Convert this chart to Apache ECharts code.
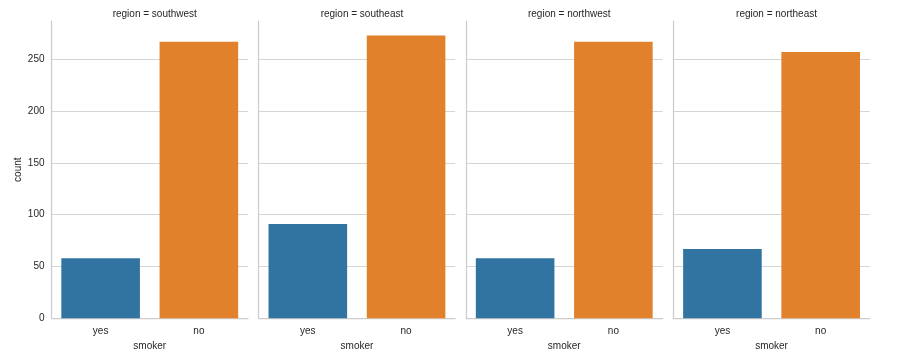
<!DOCTYPE html>
<html>
<head>
<meta charset="utf-8">
<script src="https://cdn.jsdelivr.net/npm/echarts@6/dist/echarts.min.js"></script>
<style>html,body{margin:0;padding:0;background:#fff}#c{width:901px;height:359px}</style>
</head>
<body>
<div id="c"></div>
<script>
const regions = ['southwest', 'southeast', 'northwest', 'northeast'];
const smokerCats = ['yes', 'no'];
const yesCounts = [58, 91, 58, 67];
const noCounts = [267, 273, 267, 257];
const yTicks = [0, 50, 100, 150, 200, 250];

const colors = ['#3274a1', '#e1812c'];
const FONT = 'Liberation Sans, Arial, sans-serif';
const TXT = '#262626';
const lefts = [51.5, 258.7, 466, 673.3];
const W = 196.5, TOP = 21, H = 297.3;
const yMax = 287;

const grids = [], xAxes = [], yAxes = [], series = [], titles = [];
regions.forEach((r, i) => {
  grids.push({left: lefts[i], top: TOP, width: W, height: H});
  titles.push({
    text: 'region = ' + r, left: lefts[i] + W / 2, top: 4, textAlign: 'center',
    textStyle: {fontFamily: FONT, fontSize: 10, fontWeight: 'normal', color: TXT}
  });
  xAxes.push({
    type: 'category', gridIndex: i, data: smokerCats,
    name: 'smoker', nameLocation: 'middle', nameGap: 20,
    nameTextStyle: {fontFamily: FONT, fontSize: 10, color: TXT},
    axisLine: {show: true, lineStyle: {color: '#cccccc', width: 1.25}},
    axisTick: {show: false},
    axisLabel: {fontFamily: FONT, fontSize: 10, color: TXT, margin: 8}
  });
  yAxes.push({
    type: 'value', gridIndex: i, min: 0, max: yMax, interval: 50,
    name: i === 0 ? 'count' : '', nameLocation: 'middle', nameGap: 28,
    nameTextStyle: {fontFamily: FONT, fontSize: 10, color: TXT},
    axisLine: {show: true, lineStyle: {color: '#cccccc', width: 1.25}},
    axisTick: {show: false},
    axisLabel: {
      show: i === 0, fontFamily: FONT, fontSize: 10, color: TXT, margin: 7,
      showMaxLabel: false,
      formatter: v => (yTicks.indexOf(v) >= 0 ? String(v) : '')
    },
    splitLine: {show: true, showMaxLine: false, showMinLine: false, lineStyle: {color: '#d5d5d5', width: 1}}
  });
  series.push({
    type: 'bar', xAxisIndex: i, yAxisIndex: i, barCategoryGap: '20%',
    data: [
      {value: yesCounts[i], itemStyle: {color: colors[0]}},
      {value: noCounts[i], itemStyle: {color: colors[1]}}
    ],
    animation: false
  });
});

const chart = echarts.init(document.getElementById('c'), null, {renderer: 'canvas'});
chart.setOption({
  animation: false,
  title: titles,
  grid: grids,
  xAxis: xAxes,
  yAxis: yAxes,
  series: series
});
</script>
</body>
</html>
